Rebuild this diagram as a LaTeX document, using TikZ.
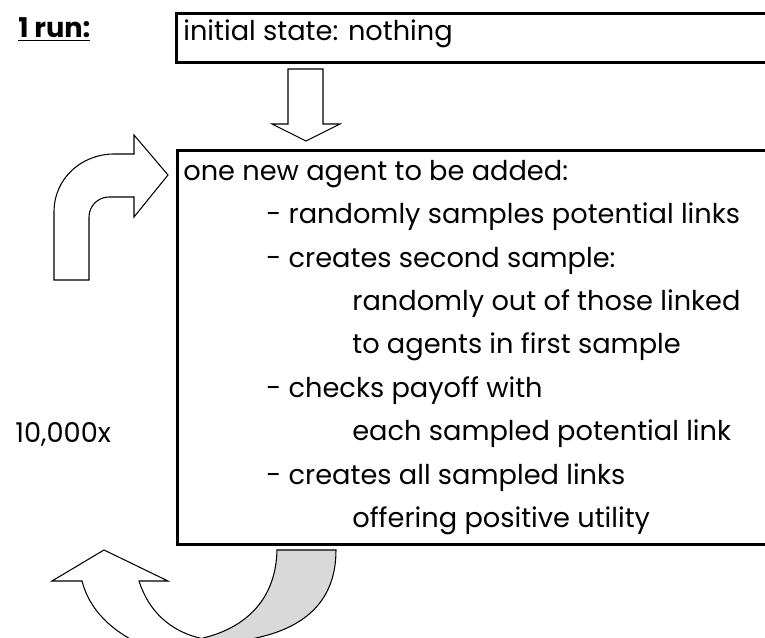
\documentclass[tikz,border=0pt]{standalone}
\usepackage{fontspec}
\setmainfont{Poppins}
\usepackage{tikz}
\usetikzlibrary{positioning}
\tikzstyle{runbox} = [rectangle, draw=black, line width=1.7pt, anchor=north west, inner sep=0pt]
\tikzstyle{textline} = [anchor=base west, inner sep=0pt, font=\fontsize{15.5}{18}\selectfont]
\tikzstyle{blockarrow} = [draw=black, line width=0.6pt, fill=white, line join=miter]
\tikzstyle{backarrow} = [draw=black, line width=0.6pt, fill=black!15]

\begin{document}
\begin{tikzpicture}[x=0.02cm, y=-0.02cm]
	\useasboundingbox (0,0) rectangle (765,638);
	\clip (0,0) rectangle (765,638);
	
	% Boxes
	\node (initbox) [runbox, minimum width=12.6cm, minimum height=0.98cm] at (175,12) {};
	\node (mainbox) [runbox, minimum width=12.6cm, minimum height=7.88cm] at (176,149) {};
	
	% Left labels
	\node (runlabel) [textline, font=\fontsize{15.5}{18}\selectfont\bfseries] at (18,38) {\underline{1 run:}};
	\node (repeat) [textline] at (15,443) {10,000x};
	
	% Text of the boxes
	\node (init) [textline] at (183,41) {initial state: nothing};
	\node (agent) [textline] at (183,181) {one new agent to be added:};
	\node (sample) [textline] at (266,224) {- randomly samples potential links};
	\node (second) [textline] at (266,268) {- creates second sample:};
	\node (outof) [textline] at (352,311) {randomly out of those linked};
	\node (first) [textline] at (352,354) {to agents in first sample};
	\node (payoff) [textline] at (266,398) {- checks payoff with};
	\node (each) [textline] at (352,441) {each sampled potential link};
	\node (links) [textline] at (266,485) {- creates all sampled links};
	\node (utility) [textline] at (352,528) {offering positive utility};
	
	% Block arrow down
	\draw [blockarrow] (288,69) -- (323,69) -- (323,124) -- (340,124) -- (306,141)
		-- (272,124) -- (288,124) -- cycle;
	
	% Bent arrow into the loop
	\draw [blockarrow] (54,280) -- (54,212) .. controls (54,178) and (82,154) .. (114,154)
		-- (134,154) -- (134,135) -- (168,175) -- (134,217) -- (134,197) -- (109,197)
		.. controls (98,197) and (89,206) .. (89,217) -- (89,280) -- cycle;
	
	% U-turn arrow back to the top
	\draw [backarrow] (277,550) -- (336,550) .. controls (336,605) and (300,635) .. (230,642)
		-- (200,655) -- (203,638) .. controls (245,628) and (276,600) .. (277,550) -- cycle;
	\draw [blockarrow] (52,581) -- (104,550) -- (168,581) -- (139,581)
		.. controls (150,615) and (175,635) .. (210,640) -- (190,660)
		.. controls (130,648) and (92,620) .. (82,581) -- cycle;
	
\end{tikzpicture}
\end{document}
